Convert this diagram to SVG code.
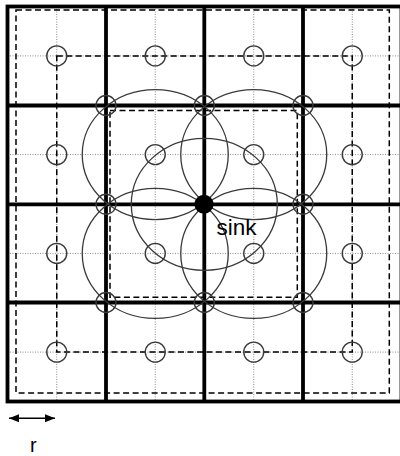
<svg xmlns="http://www.w3.org/2000/svg" width="400" height="456" viewBox="0 0 400 456">
<style>
.dot{stroke:#8a8a8a;stroke-width:1;stroke-dasharray:1 1.5;fill:none}
.dash{stroke:#000;stroke-width:1.5;stroke-dasharray:6 3.5;fill:none}
.bold{stroke:#000;stroke-width:3.8;fill:none}
.range{stroke:#3a3a3a;stroke-width:1.3;fill:none}
.node{stroke:#3a3a3a;stroke-width:1.4;fill:none}
.lbl{font-family:"Liberation Sans",Arial,sans-serif;fill:#000}
</style>
<defs>
<marker id="ah" viewBox="0 0 10 10" refX="10" refY="5" markerWidth="10" markerHeight="10" markerUnits="userSpaceOnUse" orient="auto-start-reverse">
<path d="M0,1 L10,5 L0,9 z" fill="#000"/>
</marker>
</defs>
<rect width="400" height="456" fill="#fff"/>
<g id="grid-dotted">
<line class="dot" x1="56.75" y1="6.5" x2="56.75" y2="401.5"/>
<line class="dot" x1="155.25" y1="6.5" x2="155.25" y2="401.5"/>
<line class="dot" x1="253.75" y1="6.5" x2="253.75" y2="401.5"/>
<line class="dot" x1="352.25" y1="6.5" x2="352.25" y2="401.5"/>
<line class="dot" x1="7.5" y1="55.9" x2="401.5" y2="55.9"/>
<line class="dot" x1="7.5" y1="154.6" x2="401.5" y2="154.6"/>
<line class="dot" x1="7.5" y1="253.4" x2="401.5" y2="253.4"/>
<line class="dot" x1="7.5" y1="352.1" x2="401.5" y2="352.1"/>
</g>
<g id="grid-dashed">
<rect class="dash" x="16" y="10" width="373.3" height="383"/>
<rect class="dash" x="56.75" y="55.9" width="295.5" height="296.2"/>
<rect class="dash" x="110" y="110.5" width="187.3" height="186.8"/>
</g>
<g id="grid-bold">
<rect class="bold" x="7.5" y="6.5" width="394" height="395"/>
<line class="bold" x1="106" y1="6.5" x2="106" y2="401.5"/>
<line class="bold" x1="204.3" y1="6.5" x2="204.3" y2="401.5"/>
<line class="bold" x1="303" y1="6.5" x2="303" y2="401.5"/>
<line class="bold" x1="7.5" y1="105.5" x2="401.5" y2="105.5"/>
<line class="bold" x1="7.5" y1="204.3" x2="401.5" y2="204.3"/>
<line class="bold" x1="7.5" y1="302.5" x2="401.5" y2="302.5"/>
</g>
<g id="connectors">
<ellipse class="range" cx="155.25" cy="154.6" rx="73" ry="65"/>
<ellipse class="range" cx="253.75" cy="154.6" rx="73" ry="65"/>
<ellipse class="range" cx="155.25" cy="253.4" rx="73" ry="65"/>
<ellipse class="range" cx="253.75" cy="253.4" rx="73" ry="65"/>
<ellipse class="range" cx="204.3" cy="204.3" rx="73" ry="66"/>
<line x1="9" y1="418.3" x2="55" y2="418.3" stroke="#000" stroke-width="1.6" marker-start="url(#ah)" marker-end="url(#ah)"/>
</g>
<g id="nodes">
<circle class="node" cx="56.75" cy="55.9" r="10"/>
<circle class="node" cx="155.25" cy="55.9" r="10"/>
<circle class="node" cx="253.75" cy="55.9" r="10"/>
<circle class="node" cx="352.25" cy="55.9" r="10"/>
<circle class="node" cx="56.75" cy="154.6" r="10"/>
<circle class="node" cx="155.25" cy="154.6" r="10"/>
<circle class="node" cx="253.75" cy="154.6" r="10"/>
<circle class="node" cx="352.25" cy="154.6" r="10"/>
<circle class="node" cx="56.75" cy="253.4" r="10"/>
<circle class="node" cx="155.25" cy="253.4" r="10"/>
<circle class="node" cx="253.75" cy="253.4" r="10"/>
<circle class="node" cx="352.25" cy="253.4" r="10"/>
<circle class="node" cx="56.75" cy="352.1" r="10"/>
<circle class="node" cx="155.25" cy="352.1" r="10"/>
<circle class="node" cx="253.75" cy="352.1" r="10"/>
<circle class="node" cx="352.25" cy="352.1" r="10"/>
<circle class="node" cx="106" cy="105.5" r="10"/>
<circle class="node" cx="204.3" cy="105.5" r="10"/>
<circle class="node" cx="303" cy="105.5" r="10"/>
<circle class="node" cx="106" cy="204.3" r="10"/>
<circle class="node" cx="303" cy="204.3" r="10"/>
<circle class="node" cx="106" cy="302.5" r="10"/>
<circle class="node" cx="204.3" cy="302.5" r="10"/>
<circle class="node" cx="303" cy="302.5" r="10"/>
</g>
<g id="sink">
<circle cx="204" cy="204.2" r="9.5" fill="#000"/>
<text class="lbl" x="216.5" y="235" font-size="22.5">sink</text>
</g>
<g id="scale-label">
<text class="lbl" x="30" y="452" font-size="20">r</text>
</g>
</svg>
